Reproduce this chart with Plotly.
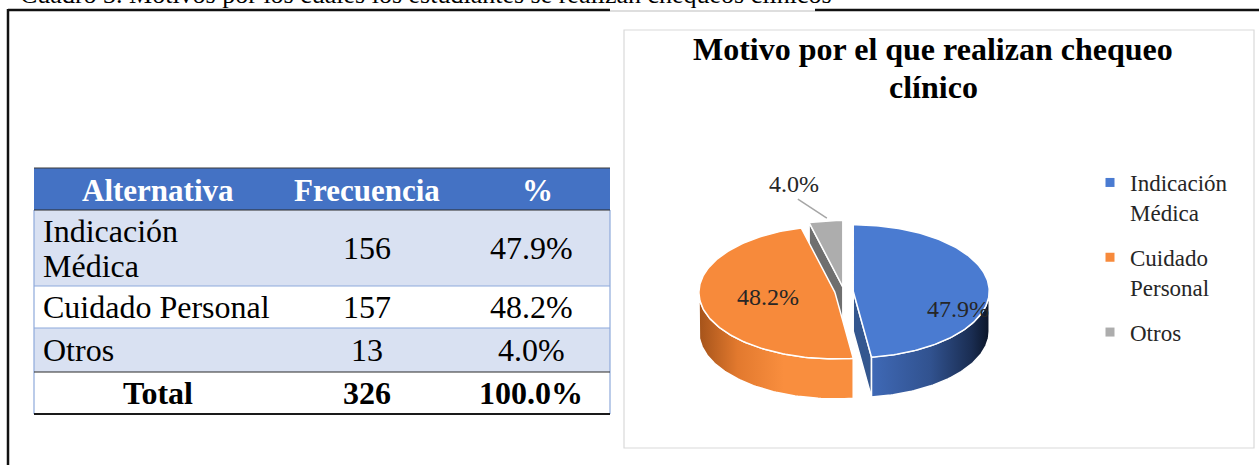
import numpy as np
import plotly.graph_objects as go

# ---------------- data ----------------
categorias = ["Indicación Médica", "Cuidado Personal", "Otros"]
frecuencia = [156, 157, 13]
porcentaje = [47.9, 48.2, 4.0]
total_label = "Total"
total_frecuencia = 326
total_porcentaje = 100.0
encabezados = ["Alternativa", "Frecuencia", "%"]
etiquetas_tabla = [["Indicación", "Médica"], ["Cuidado Personal"], ["Otros"]]
etiquetas_leyenda = ["Indicación<br>Médica", "Cuidado<br>Personal", "Otros"]
titulo = ["Motivo por el que realizan chequeo", "clínico"]
texto_cuadro = "Cuadro 3. Motivos por los cuales los estudiantes se realizan chequeos clínicos"

# ---------------- layout constants ----------------
W, H = 1259, 465
SERIF = "Liberation Serif, Times New Roman, serif"

fig = go.Figure()
shapes = []
annotations = []

# ---------------- document frame ----------------
shapes.append(dict(type="line", x0=8, x1=610, y0=10, y1=10, line=dict(color="#111111", width=2.5)))
shapes.append(dict(type="line", x0=610, x1=815, y0=11, y1=11, line=dict(color="#BDBDBD", width=1)))
shapes.append(dict(type="line", x0=815, x1=W, y0=10, y1=10, line=dict(color="#111111", width=2.5)))
shapes.append(dict(type="line", x0=8, x1=8, y0=9, y1=H, line=dict(color="#111111", width=2.5)))
annotations.append(dict(x=18, y=11, xanchor="left", yanchor="bottom", text=texto_cuadro,
                        showarrow=False, font=dict(family=SERIF, size=26, color="#000000")))

# ---------------- table ----------------
TX0, TX1 = 34, 610
row_edges = [168, 210, 286, 328, 372, 414]
row_fills = ["#4472C4", "#D9E1F2", "#FFFFFF", "#D9E1F2", "#FFFFFF"]
for i, f in enumerate(row_fills):
    shapes.append(dict(type="rect", x0=TX0, x1=TX1, y0=row_edges[i], y1=row_edges[i + 1],
                       fillcolor=f, line=dict(width=0), layer="below"))
light = "#8EA9DB"
shapes.append(dict(type="line", x0=TX0, x1=TX0, y0=row_edges[1], y1=row_edges[-1], line=dict(color=light, width=1.2)))
shapes.append(dict(type="line", x0=TX1, x1=TX1, y0=row_edges[1], y1=row_edges[-1], line=dict(color=light, width=1.2)))
shapes.append(dict(type="line", x0=TX0, x1=TX1, y0=row_edges[0], y1=row_edges[0], line=dict(color="#3A3A3A", width=1)))
shapes.append(dict(type="line", x0=TX0, x1=TX1, y0=row_edges[1], y1=row_edges[1], line=dict(color="#2A2A2A", width=1.2)))
shapes.append(dict(type="line", x0=TX0, x1=TX1, y0=row_edges[2], y1=row_edges[2], line=dict(color=light, width=1.2)))
shapes.append(dict(type="line", x0=TX0, x1=TX1, y0=row_edges[3], y1=row_edges[3], line=dict(color=light, width=1.2)))
shapes.append(dict(type="line", x0=TX0, x1=TX1, y0=row_edges[4], y1=row_edges[4], line=dict(color="#2A2A2A", width=1.2)))
shapes.append(dict(type="line", x0=TX0, x1=TX1, y0=row_edges[5], y1=row_edges[5], line=dict(color="#1A1A1A", width=1.8)))

col_center = [158, 367, 531]
header_center = [158, 367, 537]
label_left = 41
FS_T = 32
FS_H = 31
for j, h in enumerate(encabezados):
    annotations.append(dict(x=header_center[j], y=(row_edges[0] + row_edges[1]) / 2 + 1, text="<b>%s</b>" % h,
                            showarrow=False, xanchor="center", yanchor="middle",
                            font=dict(family=SERIF, size=FS_H, color="white")))
for i in range(len(categorias)):
    yc = (row_edges[i + 1] + row_edges[i + 2]) / 2
    lines = etiquetas_tabla[i]
    n = len(lines)
    for k, ln in enumerate(lines):
        yy = yc + (k - (n - 1) / 2) * 35
        annotations.append(dict(x=label_left, y=yy, text=ln, showarrow=False, xanchor="left", yanchor="middle",
                                font=dict(family=SERIF, size=FS_T, color="#000000")))
    annotations.append(dict(x=col_center[1], y=yc, text=str(frecuencia[i]), showarrow=False,
                            xanchor="center", yanchor="middle", font=dict(family=SERIF, size=FS_T, color="#000000")))
    annotations.append(dict(x=col_center[2], y=yc, text="%.1f%%" % porcentaje[i], showarrow=False,
                            xanchor="center", yanchor="middle", font=dict(family=SERIF, size=FS_T, color="#000000")))
yt = (row_edges[4] + row_edges[5]) / 2
for x, t in zip(col_center, [total_label, str(total_frecuencia), "%.1f%%" % total_porcentaje]):
    annotations.append(dict(x=x, y=yt, text="<b>%s</b>" % t, showarrow=False, xanchor="center", yanchor="middle",
                            font=dict(family=SERIF, size=FS_T, color="#000000")))

# ---------------- chart box ----------------
shapes.append(dict(type="rect", x0=624, x1=1254, y0=30, y1=448, line=dict(color="#D9D9D9", width=1.2),
                   fillcolor="rgba(0,0,0,0)"))
title_y = [49, 87]
for ln, ty in zip(titulo, title_y):
    annotations.append(dict(x=933, y=ty, text="<b>%s</b>" % ln, showarrow=False, xanchor="center",
                            yanchor="middle", font=dict(family=SERIF, size=32, color="#000000")))

# ---------------- 3D pie (computed from data) ----------------
CX, CY = 844.0, 291.5
RX, RY = 136.0, 66.5
DEPTH = 40.0
EXPLODE = 0.068
top_colors = ["#4A7BD1", "#F78A3B", "#ADADAD"]
side_scales = [
    [[0, "#3F69B6"], [0.5, "#31528F"], [0.85, "#1A2D52"], [1, "#0B1528"]],
    [[0, "#A5531A"], [0.25, "#E2792E"], [0.55, "#F98E3E"], [1, "#F98E3E"]],
    [[0, "#8C8C8C"], [1, "#8C8C8C"]],
]
wall_colors = ["#34578F", "#C0651F", "#6F6F6F"]

vals = np.array(frecuencia, dtype=float)
frac = vals / vals.sum()
ends = np.cumsum(frac) * 360.0
starts = ends - frac * 360.0
mids = (starts + ends) / 2.0


def pt(c, ang, r=1.0, dz=0.0):
    a = np.radians(ang)
    return c[0] + r * RX * np.sin(a), c[1] - r * RY * np.cos(a) + dz


centers = []
for m in mids:
    a = np.radians(m)
    centers.append((CX + EXPLODE * RX * np.sin(a), CY - EXPLODE * RY * np.cos(a)))

walls, sides, tops = [], [], []
for i in range(len(vals)):
    c = centers[i]
    # radial walls
    for ang, nrm in ((starts[i], starts[i] - 90), (ends[i], ends[i] + 90)):
        if -np.cos(np.radians(nrm)) > 1e-6:
            x1, y1 = pt(c, ang)
            xs = [c[0], x1, x1, c[0], c[0]]
            ys = [c[1], y1, y1 + DEPTH, c[1] + DEPTH, c[1]]
            walls.append(go.Scatter(x=xs, y=ys, mode="lines", fill="toself", fillcolor=wall_colors[i],
                                    line=dict(color="white", width=1.5), hoverinfo="skip", showlegend=False))
    # outer side (front half only)
    a0, a1 = max(starts[i], 90.0), min(ends[i], 270.0)
    if a1 > a0:
        angs = np.linspace(a0, a1, 80)
        px, py = pt(c, angs)
        xs = np.concatenate([px, px[::-1], px[:1]])
        ys = np.concatenate([py, (py + DEPTH)[::-1], py[:1]])
        sides.append(go.Scatter(x=xs, y=ys, mode="lines", fill="toself",
                                fillgradient=dict(type="horizontal", colorscale=side_scales[i],
                                                  start=float(px.min()), stop=float(px.max())),
                                line=dict(color="white", width=1.5), hoverinfo="skip", showlegend=False))
    # top face
    angs = np.linspace(starts[i], ends[i], max(6, int(frac[i] * 300)))
    px, py = pt(c, angs)
    xs = np.concatenate([[c[0]], px, [c[0]]])
    ys = np.concatenate([[c[1]], py, [c[1]]])
    tops.append(go.Scatter(x=xs, y=ys, mode="lines", fill="toself", fillcolor=top_colors[i],
                           line=dict(color="white", width=1.5), hoverinfo="skip", showlegend=False))

for tr in walls + sides + tops:
    fig.add_trace(tr)

# data labels
label_r = [0.77, 0.49, 1.0]
label_off = [(0, 21), (-2, -2), (-32, -37)]
for i in range(len(vals)):
    lx, ly = pt(centers[i], mids[i], label_r[i])
    lx += label_off[i][0]
    ly += label_off[i][1]
    annotations.append(dict(x=lx, y=ly, text="%.1f%%" % porcentaje[i], showarrow=False, xanchor="center",
                            yanchor="middle", font=dict(family=SERIF, size=24, color="#262626")))
    if i == 2:
        ex, ey = pt(centers[i], mids[i], 1.0)
        shapes.append(dict(type="line", x0=lx + 4, y0=ly + 15, x1=ex + 1, y1=ey - 3,
                           line=dict(color="#A6A6A6", width=1.5)))

# legend entries
for i in range(len(vals)):
    fig.add_trace(go.Scatter(x=[None], y=[None], mode="markers", name=etiquetas_leyenda[i],
                             legendgroup=str(i),
                             marker=dict(symbol="square", size=9, color=top_colors[i])))

fig.update_layout(
    width=W, height=H, margin=dict(l=0, r=0, t=0, b=0),
    paper_bgcolor="white", plot_bgcolor="white",
    xaxis=dict(range=[0, W], visible=False, fixedrange=True),
    yaxis=dict(range=[H, 0], visible=False, fixedrange=True),
    shapes=shapes, annotations=annotations,
    showlegend=True,
    legend=dict(x=1090 / W, y=1 - 161 / H, xanchor="left", yanchor="top", valign="top",
                font=dict(family=SERIF, size=23, color="#262626"), tracegroupgap=12,
                bgcolor="rgba(0,0,0,0)", itemwidth=30),
)

fig.write_html("out.html", config={"displayModeBar": False},
               post_script="document.body.style.margin='0';document.body.style.overflow='hidden';")
